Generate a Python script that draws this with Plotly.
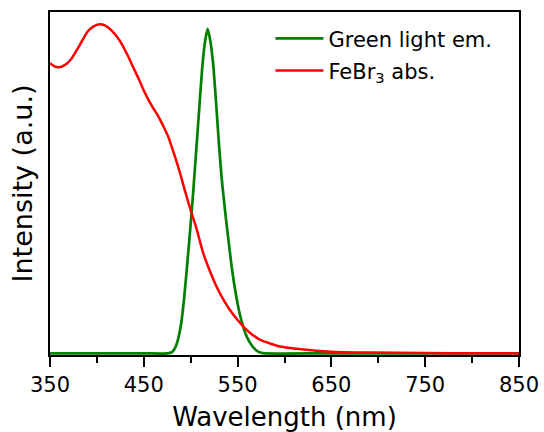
import plotly.graph_objects as go

# Emission spectrum of the green light source (normalised)
green_wl = [350, 400, 450, 475, 480, 483, 486, 490, 493, 496, 500, 503, 506, 509,
            512, 515, 518, 521, 524, 527, 530, 533, 537, 540, 544, 548, 552, 556,
            560, 565, 570, 575, 580, 650, 750, 850]
green_int = [0, 0, 0, 0, 0.004, 0.015, 0.038, 0.095, 0.17, 0.265, 0.40, 0.51, 0.63, 0.75,
             0.87, 0.955, 1.0, 0.962, 0.89, 0.775, 0.65, 0.54, 0.43, 0.355, 0.26, 0.185, 0.125, 0.082,
             0.05, 0.025, 0.009, 0.002, 0, 0, 0, 0]

# Absorption spectrum of FeBr3
red_wl = [350, 355, 360, 366, 372, 378, 384, 390, 396, 403, 409, 415, 421, 427, 433,
          439, 445, 450, 455, 460, 465, 470, 476, 482, 488, 494, 500, 506, 513, 520,
          528, 535, 542, 550, 558, 566, 574, 585, 595, 610, 624, 650, 690, 750, 800, 850]
red_int = [0.894, 0.884, 0.882, 0.889, 0.905, 0.932, 0.962, 0.991, 1.007, 1.014, 1.010,
           0.997, 0.977, 0.951, 0.917, 0.880, 0.843, 0.810, 0.781, 0.756, 0.733, 0.705,
           0.668, 0.617, 0.562, 0.500, 0.441, 0.387, 0.312, 0.257, 0.203, 0.165, 0.133,
           0.103, 0.077, 0.057, 0.042, 0.030, 0.021, 0.015, 0.011, 0.005, 0.0025, 0.001,
           0.0005, 0.0]

x_ticks = [350, 450, 550, 650, 750, 850]
x_minor = [400, 500, 600, 700, 800]

FONT = "DejaVu Sans"

fig = go.Figure()
fig.add_trace(go.Scatter(x=green_wl, y=green_int, mode="lines", name="Green light em.",
                         legendgroup="em",
                         line=dict(color="#008000", width=2.7, shape="spline", smoothing=0.6)))
fig.add_trace(go.Scatter(x=red_wl, y=red_int, mode="lines", name="FeBr<sub>3</sub> abs.",
                         legendgroup="abs",
                         line=dict(color="#ff0000", width=2.5, shape="spline", smoothing=0.8)))

fig.update_layout(
    width=544, height=432,
    margin=dict(l=50, r=25, t=12, b=77),
    paper_bgcolor="white", plot_bgcolor="white",
    font=dict(family=FONT, color="black"),
    showlegend=True,
    legend=dict(x=0.47, y=0.982, xanchor="left", yanchor="top",
                bgcolor="rgba(0,0,0,0)", font=dict(size=21, family=FONT),
                itemwidth=48, tracegroupgap=2),
    xaxis=dict(range=[350, 850], tickvals=x_ticks, ticks="outside", ticklen=10,
               tickwidth=1.5, tickcolor="black",
               minor=dict(tickvals=x_minor, ticks="outside",
                          ticklen=6, tickwidth=1.5, tickcolor="black"),
               showline=True, linecolor="black", linewidth=2, mirror=True,
               showgrid=False, zeroline=False, automargin=False,
               tickfont=dict(size=21, family=FONT),
               title=dict(text="Wavelength (nm)", font=dict(size=26, family=FONT), standoff=14)),
    yaxis=dict(range=[-0.005, 1.052], showticklabels=False, ticks="",
               showline=True, linecolor="black", linewidth=2, mirror=True,
               showgrid=False, zeroline=False, automargin=False,
               title=dict(text="Intensity (a.u.)", font=dict(size=27, family=FONT), standoff=8)),
)

fig.write_html("out.html")
